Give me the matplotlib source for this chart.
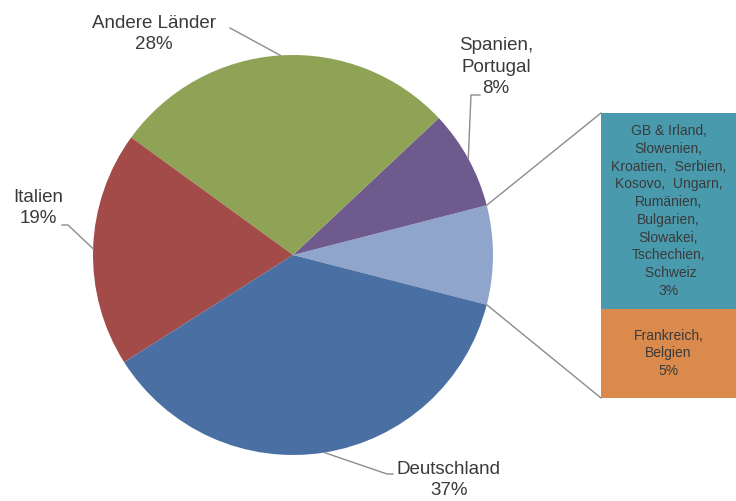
import numpy as np
import matplotlib.pyplot as plt
from matplotlib.patches import ConnectionPatch

plt.rcParams['font.family'] = ['Liberation Sans', 'DejaVu Sans']

# Pie shares in %, counter-clockwise starting at 3 o'clock
names = ['Sonstige', 'Spanien,\nPortugal', 'Andere Länder', 'Italien', 'Deutschland']
shares = [8, 8, 28, 19, 37]
colors = ['#8FA5CB', '#6F5A8E', '#8FA357', '#A34B48', '#4A70A3']

# Split of the small slice into the side bar (top to bottom)
bar_names = ['GB & Irland,\nSlowenien,\nKroatien,  Serbien,\nKosovo,  Ungarn,\nRumänien,\n'
             'Bulgarien,\nSlowakei,\nTschechien,\n Schweiz',
             'Frankreich,\nBelgien']
bar_pct = [3, 5]
bar_drawn = [5.5, 2.5]  # segment sizes as drawn in the original
bar_colors = ['#4A9AAE', '#D98A4C']

txt = '#3A3A3A'
line_col = '#8C8C8C'

fig = plt.figure(figsize=(7.36, 5.01), dpi=100)
ax = fig.add_axes([0, 0, 1, 1])

cx, cy, r = 293, 255, 200
wedges, _ = ax.pie(shares, colors=colors, startangle=14.4, counterclock=False,
                   center=(cx, cy), radius=r, wedgeprops=dict(linewidth=0))
ax.set_xlim(0, 736)
ax.set_ylim(501, 0)
ax.set_aspect('equal')
ax.axis('off')


def edge(theta):
    t = np.radians(theta)
    return cx + r * np.cos(t), cy + r * np.sin(t)


def mid(w):
    return (w.theta1 + w.theta2) / 2


fs = 13.5
ls = 1.33
# labels with leader lines
# Spanien, Portugal
ex, ey = edge(mid(wedges[1]))
ax.plot([480, 471, ex], [95, 95, ey], color=line_col, lw=1)
ax.text(496, 67, f'{names[1]}\n{shares[1]}%', ha='center', va='center',
        fontsize=fs, color=txt, linespacing=ls)
# Andere Länder
ex, ey = edge(mid(wedges[2]))
ax.plot([230, ex], [28, ey], color=line_col, lw=1)
ax.text(154, 34, f'{names[2]}\n{shares[2]}%', ha='center', va='center',
        fontsize=fs, color=txt, linespacing=ls)
# Italien
ex, ey = edge(mid(wedges[3]))
ax.plot([62, 68, ex], [225, 225, ey], color=line_col, lw=1)
ax.text(38, 208, f'{names[3]}\n{shares[3]}%', ha='center', va='center',
        fontsize=fs, color=txt, linespacing=ls)
# Deutschland
ex, ey = edge(mid(wedges[4]))
ax.plot([ex, 387, 393], [ey, 474, 474], color=line_col, lw=1)
ax.text(449, 480, f'{names[4]}\n{shares[4]}%', ha='center', va='center',
        fontsize=fs, color=txt, linespacing=ls)

# side bar
bx = fig.add_axes([601 / 736, (501 - 398) / 501, 135 / 736, 285 / 501])
bottom = 0
for name, pct, h, c in list(zip(bar_names, bar_pct, bar_drawn, bar_colors))[::-1]:
    bx.bar(0, h, bottom=bottom, width=1, color=c, linewidth=0)
    bx.text(0, bottom + h / 2, f'{name}\n{pct}%', ha='center', va='center',
            fontsize=10, color=txt, linespacing=1.34)
    bottom += h
bx.set_xlim(-0.5, 0.5)
bx.set_ylim(0, sum(bar_drawn))
bx.axis('off')

# connector lines from the small slice to the bar
for theta, yb in [(wedges[0].theta1, sum(bar_drawn)), (wedges[0].theta2, 0)]:
    con = ConnectionPatch(xyA=edge(theta), coordsA=ax.transData,
                          xyB=(-0.5, yb), coordsB=bx.transData,
                          color=line_col, lw=1)
    fig.add_artist(con)

fig.savefig('out.png', dpi=100)
